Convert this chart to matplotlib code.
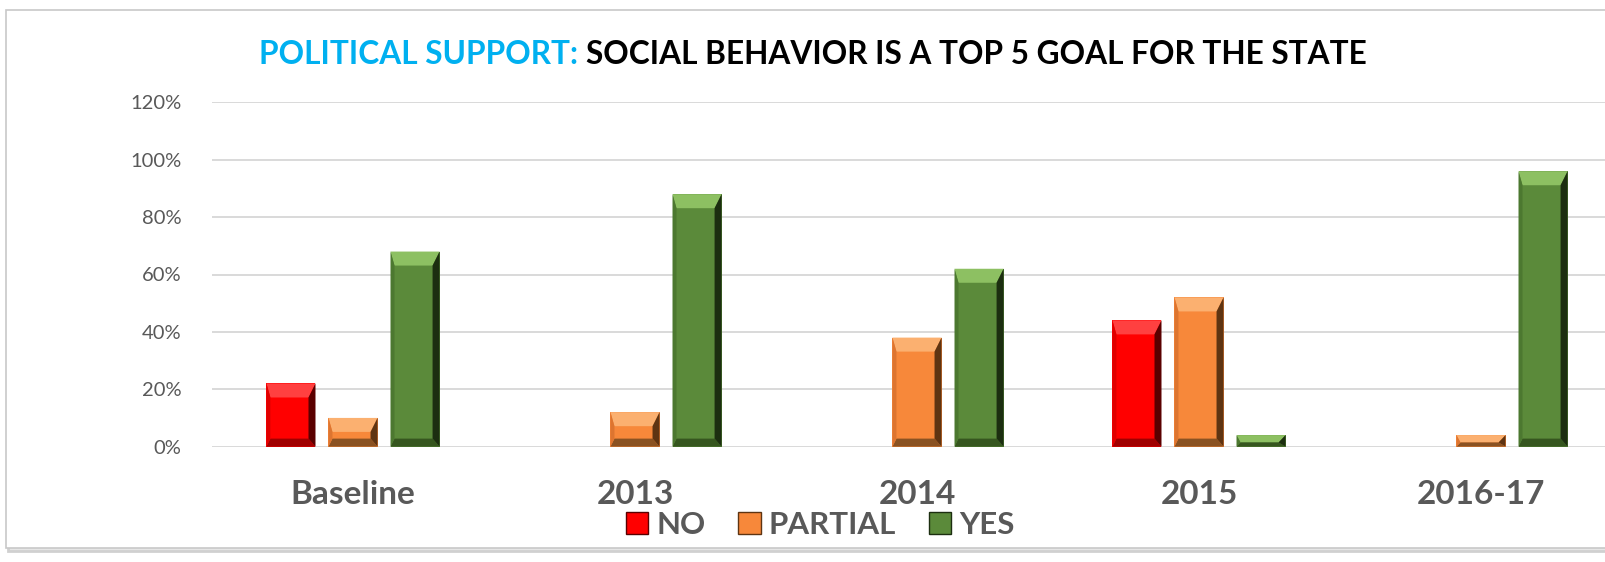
import matplotlib
matplotlib.use('Agg')
import matplotlib.pyplot as plt
from matplotlib.patches import Polygon, Rectangle, Patch
from matplotlib.transforms import IdentityTransform
import numpy as np

categories = ['Baseline', '2013', '2014', '2015', '2016-17']
series_names = ['NO', 'PARTIAL', 'YES']
no_vals = [0.22, 0.00, 0.00, 0.44, 0.00]
partial_vals = [0.10, 0.12, 0.38, 0.52, 0.04]
yes_vals = [0.68, 0.88, 0.62, 0.04, 0.96]
yticks = [0.0, 0.2, 0.4, 0.6, 0.8, 1.0, 1.2]
ytick_labels = ['0%', '20%', '40%', '60%', '80%', '100%', '120%']
title_part1 = 'POLITICAL SUPPORT: '
title_part2 = 'SOCIAL BEHAVIOR IS A TOP 5 GOAL FOR THE STATE'

W, H = 1606, 562
DPI = 100
FONT = 'Lato'
GRAY = '#595959'

main_cols = ['#FF0000', '#F7883A', '#5B8A3A']
bevel_cols = [
    # top, bottom, left, right
    ('#FF4040', '#A00000', '#E00000', '#5A0000'),
    ('#FBB070', '#8A5222', '#DD7530', '#5E3412'),
    ('#8DC062', '#36561F', '#4C7830', '#1C2E10'),
]

fig = plt.figure(figsize=(W / DPI, H / DPI), dpi=DPI)
fig.patch.set_facecolor('white')

# chart frame with shadow
fx0, fy0, fx1, fy1 = 6, 10, 1640, 548
fig.add_artist(Rectangle((fx0 / W + 2 / W, 1 - (fy1 + 3) / H), (fx1 - fx0) / W, (fy1 - fy0) / H,
                         transform=fig.transFigure, facecolor='#E6E6E6', edgecolor='#D0D0D0',
                         lw=2, zorder=-3))
fig.add_artist(Rectangle((fx0 / W, 1 - fy1 / H), (fx1 - fx0) / W, (fy1 - fy0) / H,
                         transform=fig.transFigure, facecolor='white', edgecolor='#C8C8C8',
                         lw=1.2, zorder=-2))

ax_left, ax_right = 212, 1622
ax_bottom_px, ax_top_px = 446.6, 102.4
ax = fig.add_axes([ax_left / W, 1 - ax_bottom_px / H, (ax_right - ax_left) / W,
                   (ax_bottom_px - ax_top_px) / H])
ax.set_facecolor('none')
ax.set_xlim(-0.5, len(categories) - 0.5)
ax.set_ylim(0, 1.2)
for s in ax.spines.values():
    s.set_visible(False)
ax.set_yticks(yticks)
ax.set_yticklabels(ytick_labels, fontsize=14.5, color=GRAY, family=FONT)
ax.tick_params(axis='y', length=0, pad=22)
ax.yaxis.grid(True, color='#D9D9D9', lw=1.4)
ax.set_axisbelow(True)
x = np.arange(len(categories))
ax.set_xticks(x)
ax.set_xticklabels(categories, fontsize=24, fontweight='bold', color=GRAY, family=FONT)
ax.tick_params(axis='x', length=0, pad=24)

step = 0.22
width = 0.174
all_vals = [no_vals, partial_vals, yes_vals]
bar_sets = []
for i, (vals, name) in enumerate(zip(all_vals, series_names)):
    bars = ax.bar(x + (i - 1) * step, vals, width, color=main_cols[i], label=name,
                  edgecolor='none', zorder=2)
    bar_sets.append(bars)


def bevel(x0, y0, x1, y1, cols, zorder, target):
    # x0,y0 bottom-left, x1,y1 top-right, in pixel coords (y up)
    h = y1 - y0
    if h <= 0.5:
        return
    bt, bb, bl, br = 14.0, 8.0, 4.0, 7.0
    if bt + bb > h:
        f = h / (bt + bb)
        bt *= f
        bb *= f
    ctop, cbot, cleft, cright = cols
    polys = [
        ([(x0, y1), (x1, y1), (x1 - br, y1 - bt), (x0 + bl, y1 - bt)], ctop),
        ([(x0, y0), (x1, y0), (x1 - br, y0 + bb), (x0 + bl, y0 + bb)], cbot),
        ([(x0, y0), (x0, y1), (x0 + bl, y1 - bt), (x0 + bl, y0 + bb)], cleft),
        ([(x1, y0), (x1, y1), (x1 - br, y1 - bt), (x1 - br, y0 + bb)], cright),
    ]
    for pts, c in polys:
        p = Polygon(pts, closed=True, facecolor=c, edgecolor='none',
                    transform=IdentityTransform(), zorder=zorder)
        target.add_artist(p)


for i, bars in enumerate(bar_sets):
    for b in bars:
        if b.get_height() <= 0:
            continue
        (px0, py0), (px1, py1) = ax.transData.transform(
            [(b.get_x(), b.get_y()), (b.get_x() + b.get_width(), b.get_y() + b.get_height())])
        bevel(px0, py0, px1, py1, bevel_cols[i], 3, fig)

# legend
handles = [Patch(facecolor=main_cols[i], edgecolor=bevel_cols[i][3], lw=1.0) for i in range(3)]
leg = fig.legend(handles, series_names, loc='center', bbox_to_anchor=(820 / W, 1 - 525 / H),
                 ncol=3, frameon=False, handlelength=0.72, handleheight=0.72,
                 handletextpad=0.25, columnspacing=1.05,
                 prop={'family': FONT, 'weight': 'bold', 'size': 22.5})
for t in leg.get_texts():
    t.set_color(GRAY)

# title in two colours
fig.canvas.draw()
r = fig.canvas.get_renderer()
tsize = 22.8
ty = 1 - 54 / H
t1 = fig.text(0, ty, title_part1, fontsize=tsize, fontweight='bold', color='#00B0F0',
              family=FONT, va='center', ha='left')
t2 = fig.text(0, ty, title_part2, fontsize=tsize, fontweight='bold', color='black',
              family=FONT, va='center', ha='left')
w1 = t1.get_window_extent(r).width
w2 = t2.get_window_extent(r).width
cx = 813
start = cx - (w1 + w2) / 2
t1.set_x(start / W)
t2.set_x((start + w1) / W)

fig.savefig('out.png', dpi=DPI, facecolor='white')
